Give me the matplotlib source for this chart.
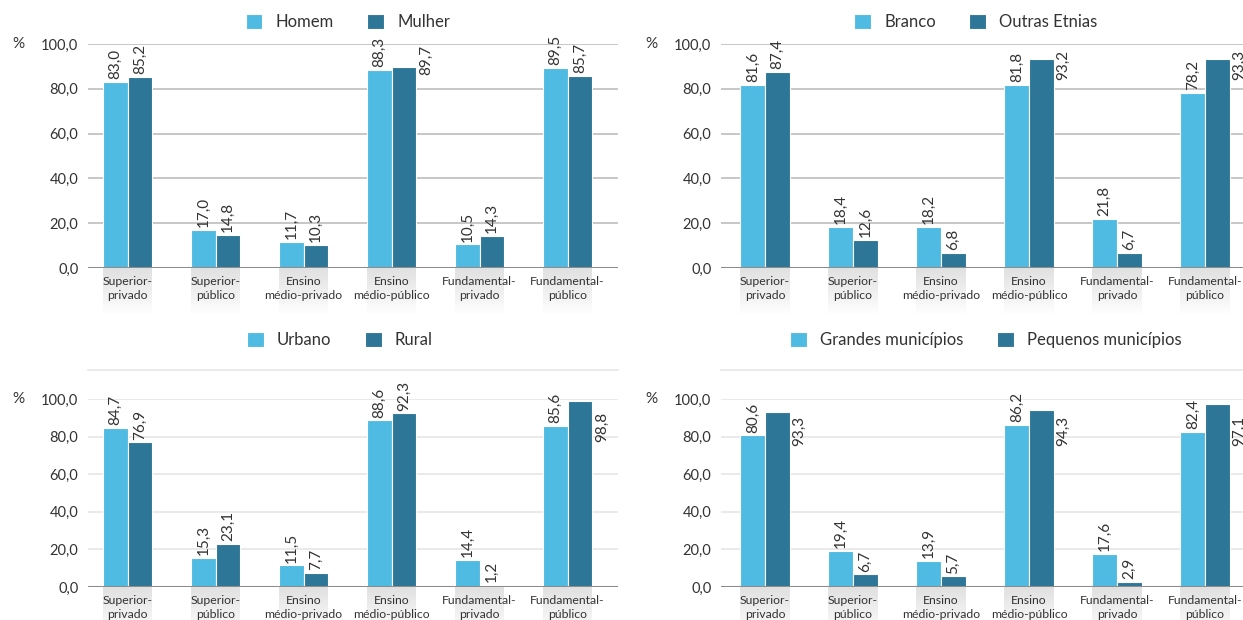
import numpy as np
import matplotlib.pyplot as plt
from matplotlib.patches import Rectangle

plt.rcParams['font.family'] = ['Lato', 'DejaVu Sans']

categories = ["Superior-\nprivado", "Superior-\npúblico", "Ensino\nmédio-privado",
              "Ensino\nmédio-público", "Fundamental-\nprivado", "Fundamental-\npúblico"]
y_ticks = [0, 20, 40, 60, 80, 100]

homem = [83.0, 17.0, 11.7, 88.3, 10.5, 89.5]
mulher = [85.2, 14.8, 10.3, 89.7, 14.3, 85.7]
branco = [81.6, 18.4, 18.2, 81.8, 21.8, 78.2]
outras_etnias = [87.4, 12.6, 6.8, 93.2, 6.7, 93.3]
urbano = [84.7, 15.3, 11.5, 88.6, 14.4, 85.6]
rural = [76.9, 23.1, 7.7, 92.3, 1.2, 98.8]
grandes = [80.6, 19.4, 13.9, 86.2, 17.6, 82.4]
pequenos = [93.3, 6.7, 5.7, 94.3, 2.9, 97.1]

LIGHT = "#4fbbe3"
DARK = "#2e7697"
TEXT = "#333333"

W, H = 1243, 620
fig = plt.figure(figsize=(W / 100, H / 100), dpi=100)


def fmt(v):
    return f"{v:.1f}".replace(".", ",")


def panel(rect_px, xlim0, a, b, names, side_thresh, side_top, grid_color, top_line, legend_x, legend_y):
    x0, y100, x1, y0 = rect_px
    ax = fig.add_axes([x0 / W, 1 - y0 / H, (x1 - x0) / W, (y0 - y100) / H])
    ax.set_xlim(xlim0, xlim0 + (x1 - x0) / 88.0)
    ax.set_ylim(0, 100)
    px_per_val = (y0 - y100) / 100.0

    x = np.arange(len(categories))
    w = 0.28
    b1 = ax.bar(x - w / 2, a, w, color=LIGHT, edgecolor="white", linewidth=0.8, label=names[0], zorder=3)
    b2 = ax.bar(x + w / 2, b, w, color=DARK, edgecolor="white", linewidth=0.8, label=names[1], zorder=3)

    for xs, vals in ((x - w / 2, a), (x + w / 2, b)):
        for xc, v in zip(xs, vals):
            if v > side_thresh:
                ax.annotate(fmt(v), (xc + w / 2, side_top), xytext=(2, 0), textcoords="offset points",
                            rotation=90, ha="left", va="top", fontsize=11, color=TEXT, annotation_clip=False)
            else:
                ax.annotate(fmt(v), (xc, v), xytext=(0, 2), textcoords="offset points",
                            rotation=90, ha="center", va="bottom", fontsize=11, color=TEXT, annotation_clip=False)

    # soft shadow under each category label
    depth = 46 / px_per_val
    steps = 24
    for xc in x:
        for i in range(steps):
            ax.add_patch(Rectangle((xc - w, -depth * (i + 1) / steps), 2 * w, depth / steps,
                                   facecolor="#c8c8c8", edgecolor="none", alpha=0.55 * (1 - i / steps),
                                   clip_on=False, zorder=0))

    ax.set_yticks(y_ticks)
    ax.set_yticklabels([fmt(t) for t in y_ticks], fontsize=10.5, color=TEXT)
    ax.set_xticks(x)
    ax.set_xticklabels(categories, fontsize=8.8, color=TEXT, linespacing=1.35)
    ax.tick_params(length=0)
    ax.tick_params(axis="y", pad=7)
    ax.tick_params(axis="x", pad=6)
    for s in ax.spines.values():
        s.set_visible(False)
    ax.grid(axis="y", color=grid_color, linewidth=1.2, zorder=0)
    ax.set_axisbelow(True)
    ax.axhline(0, color="#8c8c8c", linewidth=2.2, zorder=4)
    if top_line is not None:
        ax.axhline(top_line, color=grid_color, linewidth=1.2, clip_on=False, zorder=0)

    fig.text((x0 - 76) / W, 1 - y100 / H, "%", fontsize=11, color=TEXT, va="center", ha="left")
    fig.legend(handles=[b1, b2], loc="center", bbox_to_anchor=(legend_x / W, 1 - legend_y / H),
               ncol=2, frameon=False, fontsize=12, handlelength=1.0, handleheight=1.0,
               columnspacing=2.0, handletextpad=0.8, labelcolor=TEXT)
    return ax


panel((88, 44, 618, 268), -0.449, homem, mulher, ["Homem", "Mulher"], 89.6, 99.5, "#bdbdbd", None, 348, 22)
panel((721, 44, 1243, 268), -0.5, branco, outras_etnias, ["Branco", "Outras Etnias"], 89.6, 97.5, "#bdbdbd", None, 976, 22)
panel((88, 399, 618, 587), -0.449, urbano, rural, ["Urbano", "Rural"], 95.0, 93.0, "#e6e6e6", 115.4, 340, 340)
panel((721, 399, 1243, 587), -0.5, grandes, pequenos, ["Grandes municípios", "Pequenos municípios"], 90.0, 91.0, "#e6e6e6", 115.4, 986, 340)

fig.savefig("out.png", dpi=100)
